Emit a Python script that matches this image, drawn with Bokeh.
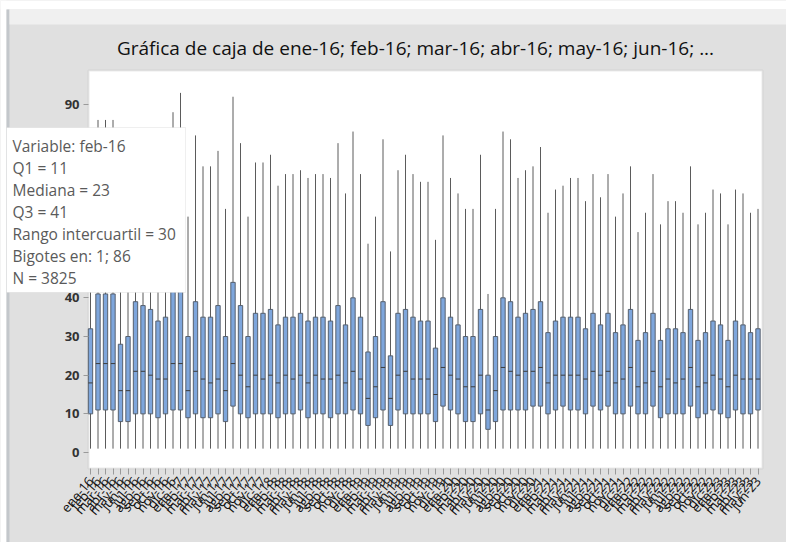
from bokeh.plotting import figure
from bokeh.models import Range1d, FixedTicker, BoxAnnotation, Label
from bokeh.embed import file_html
from bokeh.resources import INLINE
import math

# Monthly variables (ene-16 .. jun-23)
months = [
    "ene-16", "feb-16", "mar-16", "abr-16", "may-16", "jun-16", "jul-16", "ago-16", "sep-16", "oct-16", "nov-16", "dic-16",
    "ene-17", "feb-17", "mar-17", "abr-17", "may-17", "jun-17", "jul-17", "ago-17", "sep-17", "oct-17", "nov-17", "dic-17",
    "ene-18", "feb-18", "mar-18", "abr-18", "may-18", "jun-18", "jul-18", "ago-18", "sep-18", "oct-18", "nov-18", "dic-18",
    "ene-19", "feb-19", "mar-19", "abr-19", "may-19", "jun-19", "jul-19", "ago-19", "sep-19", "oct-19", "nov-19", "dic-19",
    "ene-20", "feb-20", "mar-20", "abr-20", "may-20", "jun-20", "jul-20", "ago-20", "sep-20", "oct-20", "nov-20", "dic-20",
    "ene-21", "feb-21", "mar-21", "abr-21", "may-21", "jun-21", "jul-21", "ago-21", "sep-21", "oct-21", "nov-21", "dic-21",
    "ene-22", "feb-22", "mar-22", "abr-22", "may-22", "jun-22", "jul-22", "ago-22", "sep-22", "oct-22", "nov-22", "dic-22",
    "ene-23", "feb-23", "mar-23", "abr-23", "may-23", "jun-23",
]

q1 = [
    10, 11, 11, 11, 8, 8, 10, 10, 10, 9, 10, 11,
    11, 9, 10, 9, 9, 10, 8, 12, 10, 9, 10, 10,
    10, 9, 10, 10, 11, 9, 10, 10, 9, 10, 10, 11,
    10, 7, 9, 11, 7, 11, 10, 10, 10, 10, 8, 12,
    11, 10, 8, 8, 10, 6, 8, 11, 11, 11, 11, 12,
    12, 10, 11, 12, 11, 11, 10, 12, 11, 12, 10, 10,
    12, 10, 10, 12, 9, 10, 10, 10, 12, 9, 10, 11,
    10, 9, 11, 10, 10, 11,
]

median = [
    18, 23, 23, 23, 16, 16, 21, 21, 20, 19, 19, 23,
    23, 16, 21, 19, 18, 19, 16, 23, 20, 17, 20, 19,
    20, 18, 20, 19, 20, 18, 20, 19, 19, 20, 18, 21,
    19, 14, 17, 22, 14, 20, 21, 19, 19, 19, 15, 22,
    20, 19, 17, 17, 20, 11, 16, 22, 21, 20, 21, 21,
    22, 18, 20, 20, 20, 20, 19, 21, 20, 21, 18, 19,
    22, 17, 18, 21, 17, 19, 18, 19, 22, 17, 18, 20,
    19, 17, 20, 19, 19, 19,
]

q3 = [
    32, 41, 41, 41, 28, 30, 39, 38, 37, 34, 35, 42,
    44, 30, 39, 35, 35, 38, 30, 44, 38, 30, 36, 36,
    37, 33, 35, 35, 36, 34, 35, 35, 34, 38, 33, 40,
    35, 26, 30, 39, 25, 36, 37, 35, 34, 34, 27, 40,
    35, 33, 30, 30, 37, 20, 30, 40, 39, 35, 36, 37,
    39, 31, 34, 35, 35, 35, 32, 36, 33, 36, 31, 33,
    37, 29, 31, 36, 29, 32, 32, 31, 37, 29, 31, 34,
    33, 29, 34, 33, 31, 32,
]

whisker_low = [1] * 90

whisker_high = [
    65, 86, 86, 86, 58, 63, 82, 80, 77, 71, 72, 88,
    93, 61, 82, 74, 74, 78, 63, 92, 80, 61, 75, 75,
    77, 69, 72, 72, 73, 71, 72, 72, 71, 80, 67, 83,
    72, 54, 61, 81, 52, 73, 77, 72, 70, 70, 55, 82,
    71, 67, 63, 63, 77, 41, 63, 83, 81, 71, 73, 74,
    79, 62, 68, 69, 71, 71, 65, 72, 66, 72, 61, 67,
    74, 57, 62, 72, 59, 65, 65, 62, 74, 59, 62, 68,
    67, 59, 68, 67, 62, 63,
]

y_ticks = [0, 10, 20, 30, 40, 50, 60, 70, 80, 90]

title_text = "Gráfica de caja de ene-16; feb-16; mar-16; abr-16; may-16; jun-16; ..."
tip_lines = [
    "Variable: feb-16",
    "Q1 = 11",
    "Mediana = 23",
    "Q3 = 41",
    "Rango intercuartil = 30",
    "Bigotes en: 1; 86",
    "N = 3825",
]

W, H = 786, 542
# data window: the plotting frame spans the whole canvas, the white
# graph region sits inside it and the axes are pinned to its edges
X0, X1 = -12.0, 92.8
Y0, Y1 = -23.27, 116.89
AREA_LEFT, AREA_RIGHT = -0.267, 89.6
AREA_BOTTOM, AREA_TOP = -4.14, 98.78

xs = list(range(len(months)))
box_w = 0.58

p = figure(
    width=W, height=H,
    output_backend="svg", toolbar_location=None,
    x_range=Range1d(X0, X1), y_range=Range1d(Y0, Y1),
    min_border=0,
)
p.background_fill_color = "#e0e0e0"
p.border_fill_color = "#e0e0e0"
p.outline_line_color = None
p.grid.visible = False


def canvas_box(left, right, top, bottom, **kw):
    return BoxAnnotation(left=left, right=right, top=top, bottom=bottom,
                         left_units="canvas", right_units="canvas",
                         top_units="canvas", bottom_units="canvas", **kw)


# window chrome
p.add_layout(canvas_box(0, W, 0, 9, fill_color="white", fill_alpha=1, line_alpha=0, level="underlay"))
p.add_layout(canvas_box(0, 6, 0, H, fill_color="white", fill_alpha=1, line_alpha=0, level="underlay"))
p.add_layout(canvas_box(6, 9, 9, H, fill_color="#c3c7cb", fill_alpha=1, line_alpha=0, level="underlay"))
p.add_layout(canvas_box(9, W, 9, 24, fill_color="#f0f0f0", fill_alpha=1, line_alpha=0, level="underlay"))

# white graph region with its grey frame
p.add_layout(BoxAnnotation(left=AREA_LEFT, right=AREA_RIGHT, bottom=AREA_BOTTOM, top=AREA_TOP,
                           fill_color="white", fill_alpha=1, line_color="#b9b9b9", line_width=2,
                           level="underlay"))

# whiskers, boxes and medians
p.segment(x0=xs, y0=whisker_low, x1=xs, y1=whisker_high, line_color="#5b5b5b", line_width=1)
p.vbar(x=xs, width=box_w, bottom=q1, top=q3, fill_color="#7ea6dc", line_color="#56606e", line_width=1)
p.segment(x0=[x - box_w / 2 for x in xs], y0=median, x1=[x + box_w / 2 for x in xs], y1=median,
          line_color="#3c3c3c", line_width=1)

# axes pinned to the graph region
p.xaxis.fixed_location = AREA_BOTTOM
p.xaxis.ticker = FixedTicker(ticks=xs)
p.xaxis.major_label_overrides = {i: m for i, m in enumerate(months)}
p.xaxis.major_label_orientation = math.radians(50)
p.xaxis.major_label_text_font = "Open Sans"
p.xaxis.major_label_text_font_size = "13px"
p.xaxis.major_label_text_color = "#111111"
p.xaxis.major_label_standoff = 4
p.xaxis.minor_tick_line_color = None
p.xaxis.axis_line_color = None
p.xaxis.major_tick_line_color = "#9a9a9a"
p.xaxis.major_tick_out = 6
p.xaxis.major_tick_in = 0

p.yaxis.fixed_location = AREA_LEFT
p.yaxis.ticker = FixedTicker(ticks=y_ticks)
p.yaxis.major_label_text_font = "Open Sans"
p.yaxis.major_label_text_font_size = "13px"
p.yaxis.major_label_text_font_style = "bold"
p.yaxis.major_label_text_color = "#333333"
p.yaxis.major_label_standoff = 4
p.yaxis.minor_tick_line_color = None
p.yaxis.axis_line_color = None
p.yaxis.major_tick_line_color = "#9a9a9a"
p.yaxis.major_tick_out = 5
p.yaxis.major_tick_in = 0

# title
p.add_layout(Label(x=415, y=H - 47, x_units="screen", y_units="screen",
                   text=title_text, text_align="center", text_baseline="middle",
                   text_font="Open Sans", text_font_size="19px", text_color="#111111"))

# hover-style information box for feb-16
p.add_layout(canvas_box(6, 185, 127, 292, fill_color="white", fill_alpha=1,
                        line_color="#c9c9c9", line_width=1, level="overlay"))
for k, line in enumerate(tip_lines):
    base = 145 + 22 * k
    p.add_layout(Label(x=12, y=H - base, x_units="screen", y_units="screen",
                       text=line, text_align="left", text_baseline="alphabetic",
                       text_font="Open Sans", text_font_size="15.5px", text_color="#5a5a5a",
                       level="overlay"))

open("out.html", "w").write(file_html(p, INLINE))
